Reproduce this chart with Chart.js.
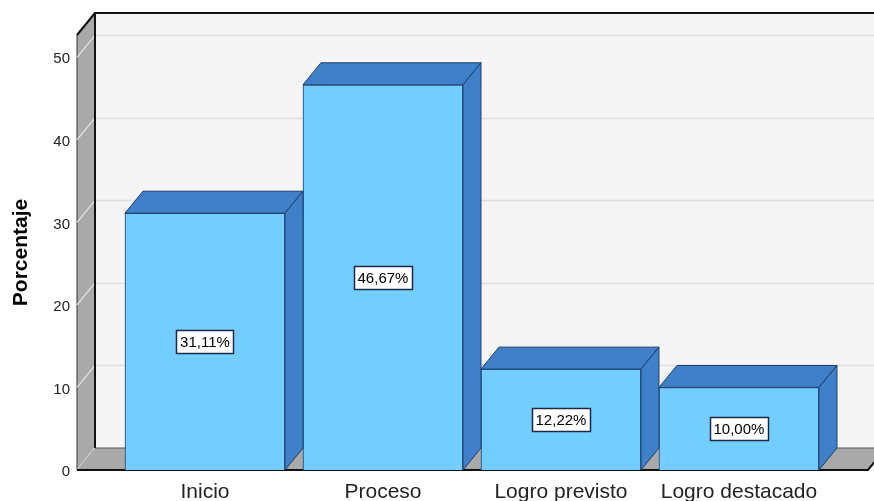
<!DOCTYPE html>
<html>
<head>
<meta charset="utf-8">
<script src="https://cdn.jsdelivr.net/npm/chart.js@4.4.1/dist/chart.umd.min.js"></script>
<style>
  html, body { margin: 0; padding: 0; background: #ffffff; }
  #wrap { width: 874px; height: 501px; }
</style>
</head>
<body>
<div id="wrap"><canvas id="c" width="874" height="501"></canvas></div>
<script>
// Categories and percentages
const categories = ['Inicio', 'Proceso', 'Logro previsto', 'Logro destacado'];
const percentages = [31.11, 46.67, 12.22, 10.00];
const yTicks = [0, 10, 20, 30, 40, 50];

const FONT = '"Liberation Sans", Arial, sans-serif';
const DEPTH_X = 18, DEPTH_Y = 22;

const frontColor = '#73ceff';
const faceColor = '#3f80c8';
const edgeColor = '#1d3d6c';

function fmt(v) {
  return v.toFixed(2).replace('.', ',') + '%';
}

// Back wall, left wall, floor and gridlines drawn behind the bars
const walls3d = {
  id: 'walls3d',
  beforeDatasetsDraw(chart) {
    const { ctx, chartArea: a, scales: { y } } = chart;
    const W = chart.width + 40;
    ctx.save();
    // back wall
    ctx.fillStyle = '#f5f5f5';
    ctx.fillRect(a.left + DEPTH_X, a.top - DEPTH_Y, W, a.bottom - a.top);
    // gridlines on back wall
    ctx.strokeStyle = '#dedede';
    ctx.lineWidth = 1.5;
    yTicks.forEach(v => {
      if (v === 0) return;
      const py = Math.round(y.getPixelForValue(v) - DEPTH_Y) + 0.5;
      ctx.beginPath();
      ctx.moveTo(a.left + DEPTH_X, py);
      ctx.lineTo(W, py);
      ctx.stroke();
    });
    // left wall
    ctx.fillStyle = '#a9a9a9';
    ctx.beginPath();
    ctx.moveTo(a.left, a.top);
    ctx.lineTo(a.left + DEPTH_X, a.top - DEPTH_Y);
    ctx.lineTo(a.left + DEPTH_X, a.bottom - DEPTH_Y);
    ctx.lineTo(a.left, a.bottom);
    ctx.closePath();
    ctx.fill();
    ctx.strokeStyle = '#333333';
    ctx.lineWidth = 1;
    ctx.stroke();
    // gridline continuation on left wall
    ctx.strokeStyle = '#e6e6e6';
    ctx.lineWidth = 1.2;
    yTicks.forEach(v => {
      const py = y.getPixelForValue(v);
      ctx.beginPath();
      ctx.moveTo(a.left, py);
      ctx.lineTo(a.left + DEPTH_X, py - DEPTH_Y);
      ctx.stroke();
    });
    // floor
    ctx.fillStyle = '#a9a9a9';
    ctx.beginPath();
    ctx.moveTo(a.left, a.bottom);
    ctx.lineTo(a.left + DEPTH_X, a.bottom - DEPTH_Y);
    ctx.lineTo(a.right + DEPTH_X, a.bottom - DEPTH_Y);
    ctx.lineTo(a.right, a.bottom);
    ctx.closePath();
    ctx.fill();
    // dark edges
    ctx.strokeStyle = '#111111';
    ctx.lineWidth = 2;
    ctx.beginPath();
    ctx.moveTo(a.left + DEPTH_X, a.bottom - DEPTH_Y);
    ctx.lineTo(a.left + DEPTH_X, a.top - DEPTH_Y);
    ctx.lineTo(W, a.top - DEPTH_Y);
    ctx.stroke();
    ctx.beginPath();
    ctx.moveTo(a.left, a.top);
    ctx.lineTo(a.left + DEPTH_X, a.top - DEPTH_Y);
    ctx.stroke();
    ctx.beginPath();
    ctx.moveTo(a.left, a.bottom);
    ctx.lineTo(a.right, a.bottom);
    ctx.lineTo(a.right + DEPTH_X, a.bottom - DEPTH_Y);
    ctx.stroke();
    ctx.strokeStyle = '#555555';
    ctx.lineWidth = 1;
    ctx.beginPath();
    ctx.moveTo(a.left + DEPTH_X, a.bottom - DEPTH_Y);
    ctx.lineTo(a.right + DEPTH_X, a.bottom - DEPTH_Y);
    ctx.stroke();
    ctx.restore();
  },
  afterDatasetsDraw(chart) {
    const { ctx } = chart;
    const meta = chart.getDatasetMeta(0);
    ctx.save();
    meta.data.forEach((bar, i) => {
      const p = bar.getProps(['x', 'y', 'base', 'width'], true);
      const left = p.x - p.width / 2, right = p.x + p.width / 2;
      ctx.fillStyle = faceColor;
      ctx.strokeStyle = edgeColor;
      ctx.lineWidth = 1;
      // top face
      ctx.beginPath();
      ctx.moveTo(left, p.y);
      ctx.lineTo(left + DEPTH_X, p.y - DEPTH_Y);
      ctx.lineTo(right + DEPTH_X, p.y - DEPTH_Y);
      ctx.lineTo(right, p.y);
      ctx.closePath();
      ctx.fill();
      ctx.stroke();
      // side face
      ctx.beginPath();
      ctx.moveTo(right, p.y);
      ctx.lineTo(right + DEPTH_X, p.y - DEPTH_Y);
      ctx.lineTo(right + DEPTH_X, p.base - DEPTH_Y);
      ctx.lineTo(right, p.base);
      ctx.closePath();
      ctx.fill();
      ctx.stroke();
      // value label box
      const txt = fmt(percentages[i]);
      ctx.font = '15px ' + FONT;
      const tw = ctx.measureText(txt).width;
      const bw = Math.round(tw + 7), bh = 23;
      const cy = (p.y + p.base) / 2;
      const bx = Math.round(p.x - bw / 2) + 0.5, by = Math.round(cy - bh / 2) + 0.5;
      ctx.fillStyle = '#ffffff';
      ctx.fillRect(bx, by, bw, bh);
      ctx.strokeStyle = '#1a2a44';
      ctx.lineWidth = 1.5;
      ctx.strokeRect(bx, by, bw, bh);
      ctx.fillStyle = '#000000';
      ctx.textAlign = 'center';
      ctx.textBaseline = 'middle';
      ctx.fillText(txt, p.x, cy + 1);
    });
    ctx.restore();
  }
};

new Chart(document.getElementById('c'), {
  type: 'bar',
  data: {
    datasets: [{
      data: percentages.map((v, i) => ({ x: i, y: v })),
      backgroundColor: frontColor,
      borderColor: edgeColor,
      borderWidth: 1,
      barThickness: 160
    }]
  },
  options: {
    responsive: false,
    animation: false,
    events: [],
    layout: { padding: { top: 35, right: 6, left: 0, bottom: 0 } },
    plugins: { legend: { display: false }, tooltip: { enabled: false } },
    scales: {
      x: {
        type: 'linear',
        offset: false,
        min: -0.719,
        max: 3.725,
        grid: { display: false, drawTicks: false, offset: false },
        border: { display: false },
        afterFit(scale) { scale.height = 31; },
        afterBuildTicks(scale) {
          scale.ticks = categories.map((c, i) => ({ value: i }));
        },
        ticks: {
          padding: 10,
          color: '#222222',
          font: { family: FONT, size: 21 },
          maxRotation: 0,
          autoSkip: false,
          callback: v => categories[v]
        }
      },
      y: {
        min: 0,
        max: 52.7,
        grid: { display: false, drawTicks: false },
        border: { display: false },
        afterFit(scale) { scale.width = 77; },
        afterBuildTicks(scale) {
          scale.ticks = yTicks.map(v => ({ value: v }));
        },
        ticks: {
          padding: 7,
          labelOffset: 2,
          color: '#222222',
          font: { family: FONT, size: 15 }
        },
        title: {
          display: true,
          text: 'Porcentaje',
          color: '#000000',
          font: { family: FONT, size: 21, weight: 'bold' },
          padding: { top: 9, bottom: 0 }
        }
      }
    }
  },
  plugins: [walls3d]
});
</script>
</body>
</html>
